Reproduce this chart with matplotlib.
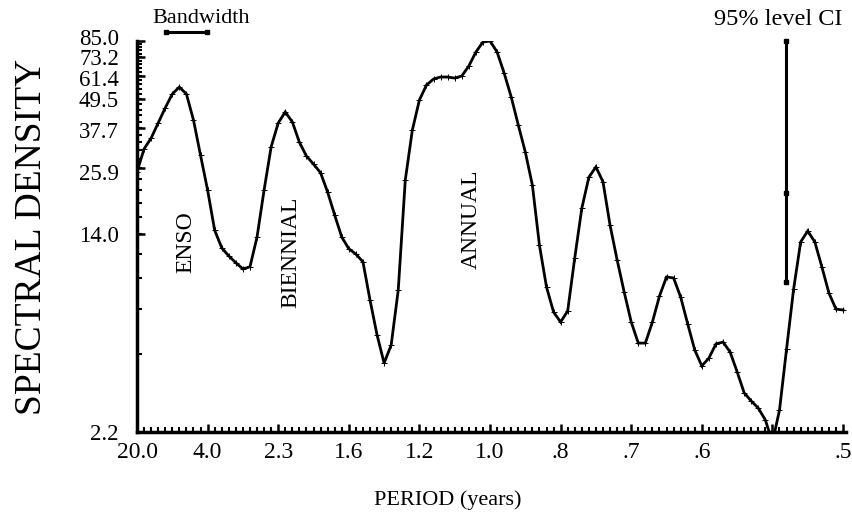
import numpy as np
import matplotlib
matplotlib.use("Agg")
import matplotlib.pyplot as plt
import matplotlib.transforms as mtransforms

# spectral density, one value per frequency bin (cycles/year)
density = [
    25.0, 31.0, 34.3, 39.5, 45.5, 51.8, 55.3, 51.8, 40.6, 29.2,
    21.1, 14.5, 12.3, 11.4, 10.7, 10.1, 10.3, 13.6, 21.1, 31.6,
    39.5, 43.8, 39.9, 33.0, 29.0, 26.9, 24.8, 20.7, 16.7, 13.6,
    12.2, 11.6, 10.8, 7.56, 5.45, 4.19, 4.96, 8.29, 23.2, 37.0,
    49.0, 56.3, 59.6, 60.7, 60.7, 60.1, 61.3, 67.3, 76.7, 84.2,
    85.0, 76.7, 63.0, 50.4, 38.8, 30.1, 22.1, 12.6, 8.53, 6.75,
    6.15, 6.82, 11.2, 17.8, 23.8, 26.2, 22.8, 15.2, 11.0, 8.14,
    6.15, 5.05, 5.05, 6.15, 7.84, 9.37, 9.28, 7.77, 6.04, 4.73,
    4.08, 4.39, 5.01, 5.10, 4.65, 3.86, 3.17, 2.94, 2.75, 2.46,
    2.0, 2.70, 4.78, 8.37, 13.0, 14.4, 13.0, 10.3, 8.06, 6.94,
    6.88,
]
f0 = 0.0625      # first frequency (cycles/year)
df = 0.01875     # frequency step

period_labels = ['20.0', '4.0', '2.3', '1.6', '1.2', '1.0', '.8', '.7', '.6', '', '.5']
ytick_values = [2.2, 14.0, 25.9, 37.7, 49.5, 61.4, 73.2, 85.0]

ci_freq = 1.786
ci_low, ci_mid, ci_high = 8.94, 20.5, 85.0
bandwidth = (0.139, 0.248)

freq = f0 + df * np.arange(len(density))

plt.rcParams['font.family'] = ['Liberation Serif', 'DejaVu Serif']

fig = plt.figure(figsize=(8.52, 5.19), dpi=100)
ax = fig.add_axes([0.1608, 0.1676, 0.832, 0.7534])

ax.plot(freq, density, color='black', lw=2.0, marker='+', ms=4, mew=0.7,
        solid_joinstyle='miter')

ax.set_yscale('log')
ax.set_ylim(2.2, 85.0)
ax.set_xlim(f0, f0 + df * 100.4)

ax.set_yticks(ytick_values)
ax.set_yticklabels([f"{v:.1f}" for v in ytick_values])
ax.yaxis.set_minor_locator(matplotlib.ticker.FixedLocator(np.linspace(2.2, 85.0, 36)))
ax.yaxis.set_minor_formatter(matplotlib.ticker.NullFormatter())

major_x = f0 + 10 * df * np.arange(len(period_labels))
ax.set_xticks(major_x)
ax.set_xticklabels(period_labels)
ax.set_xticks(freq, minor=True)

for s in ['top', 'right']:
    ax.spines[s].set_visible(False)
for s in ['left', 'bottom']:
    ax.spines[s].set_linewidth(2.5)

ax.tick_params(which='major', direction='in', length=6, width=1.8, labelsize=17)
ax.tick_params(axis='y', which='major', labelsize=16.5)
ax.tick_params(which='minor', direction='in', length=3.5, width=1.5)
ax.tick_params(axis='y', which='major', pad=13)
ax.tick_params(axis='x', which='major', pad=7)

# the crowded labels at the top sit a little apart, as in the original
nudge_px = {85.0: -4, 61.4: 2, 37.7: 2, 25.9: 4}
for val, lab in zip(ytick_values, ax.get_yticklabels()):
    dy = nudge_px.get(val, 0)
    if dy:
        off = mtransforms.ScaledTranslation(0, -dy / 100, fig.dpi_scale_trans)
        lab.set_transform(lab.get_transform() + off)

ax.set_ylabel('SPECTRAL DENSITY', fontsize=27)
ax.yaxis.set_label_coords(-0.124, 0.5)
ax.set_xlabel('PERIOD (years)', fontsize=16)
ax.xaxis.set_label_coords(0.439, -0.15)

# band labels
ax.text(0.192, 13.0, 'ENSO', rotation=90, ha='center', va='center', fontsize=17)
ax.text(0.471, 11.8, 'BIENNIAL', rotation=90, ha='center', va='center', fontsize=17)
ax.text(0.95, 16.0, 'ANNUAL', rotation=90, ha='center', va='center', fontsize=17)

# 95% confidence interval bar
ax.plot([ci_freq, ci_freq], [ci_low, ci_high], color='black', lw=2.2, clip_on=False)
ax.plot([ci_freq] * 3, [ci_low, ci_mid, ci_high], ls='none', marker='s', ms=3,
        color='black', clip_on=False)

# bandwidth bar above the axes
trans = mtransforms.blended_transform_factory(ax.transData, ax.transAxes)
ax.plot(bandwidth, [1.023, 1.023], color='black', lw=2.2, transform=trans,
        clip_on=False, marker='s', ms=2.5)
ax.text(0.2325, 1.058, 'Bandwidth', transform=trans, ha='center',
        va='center', fontsize=16)
ax.text(1.765, 1.054, '95% level CI', transform=trans, ha='center',
        va='center', fontsize=17.5)

fig.savefig('out.png', dpi=100)
